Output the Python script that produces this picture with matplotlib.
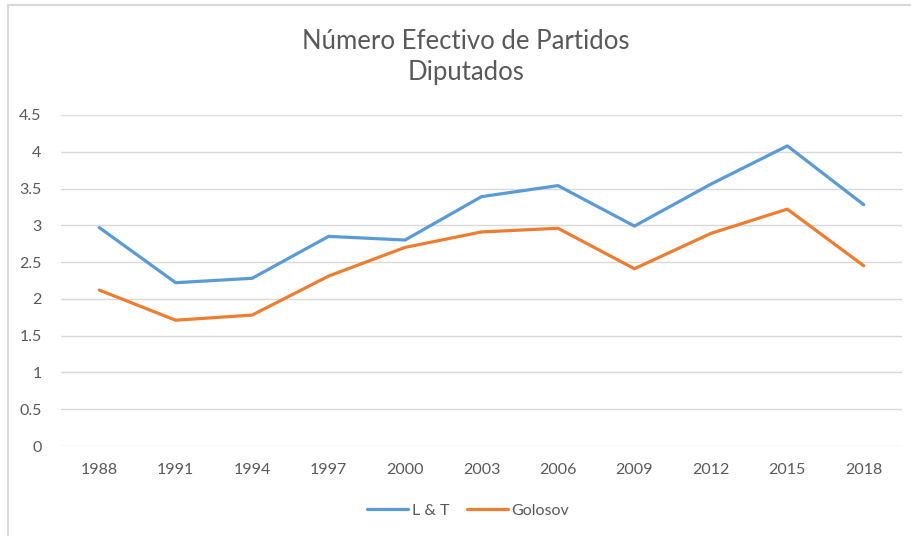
import matplotlib.pyplot as plt
from matplotlib.lines import Line2D

# datos
anios = ["1988", "1991", "1994", "1997", "2000", "2003", "2006", "2009", "2012", "2015", "2018"]
lt = [2.97, 2.22, 2.28, 2.85, 2.80, 3.39, 3.54, 2.99, 3.56, 4.08, 3.28]
golosov = [2.12, 1.71, 1.78, 2.31, 2.70, 2.91, 2.96, 2.41, 2.89, 3.22, 2.45]
y_ticks = [0, 0.5, 1, 1.5, 2, 2.5, 3, 3.5, 4, 4.5]
y_labels = ["0", "0.5", "1", "1.5", "2", "2.5", "3", "3.5", "4", "4.5"]

gris = "#595959"
azul = "#5B9BD5"
naranja = "#ED7D31"

plt.rcParams["font.family"] = ["Lato", "DejaVu Sans"]

fig = plt.figure(figsize=(9.12, 5.36), dpi=100)
ax = fig.add_axes([61 / 912, 1 - 446 / 536, (902 - 61) / 912, (446 - 115) / 536])

x = list(range(len(anios)))
ax.plot(x, lt, color=azul, lw=2.3, solid_capstyle="round", solid_joinstyle="round", label="L & T")
ax.plot(x, golosov, color=naranja, lw=2.3, solid_capstyle="round", solid_joinstyle="round", label="Golosov")

ax.set_xlim(-0.5, len(anios) - 0.5)
ax.set_ylim(0, 4.5)
ax.set_xticks(x)
ax.set_xticklabels(anios, fontsize=11.5, color=gris)
ax.set_yticks(y_ticks)
ax.set_yticklabels(y_labels, fontsize=11.5, color=gris)
ax.tick_params(length=0)
ax.tick_params(axis="x", pad=12)
ax.tick_params(axis="y", pad=14)
ax.grid(axis="y", color="#d9d9d9", lw=1)
ax.set_axisbelow(True)
for s in ax.spines.values():
    s.set_visible(False)

# titulo
fig.text(466 / 912, 1 - 57 / 536, "Número Efectivo de Partidos\nDiputados",
         ha="center", va="center", fontsize=18.5, color=gris, linespacing=1.28)

# leyenda
handles = [Line2D([], [], color=azul, lw=2.3, solid_capstyle="round"),
           Line2D([], [], color=naranja, lw=2.3, solid_capstyle="round")]
fig.legend(handles, ["L & T", "Golosov"], loc="center", bbox_to_anchor=(468 / 912, 1 - 511 / 536),
           ncol=2, frameon=False, fontsize=11.5, labelcolor=gris,
           handlelength=2.6, handletextpad=0.2, columnspacing=1.1)

# borde del recuadro
fig.add_artist(Line2D([8 / 912, 1], [1 - 5 / 536, 1 - 5 / 536], color="#d9d9d9", lw=1.5))
fig.add_artist(Line2D([8 / 912, 8 / 912], [0, 1 - 5 / 536], color="#d9d9d9", lw=1.5))

fig.savefig("out.png", dpi=100, facecolor="white")
